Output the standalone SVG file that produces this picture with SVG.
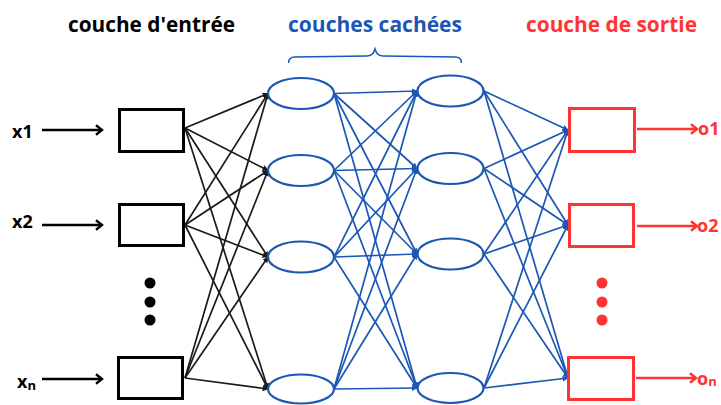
<svg xmlns="http://www.w3.org/2000/svg" width="721" height="405" viewBox="0 0 721 405">
<style>
text{font-family:"Open Sans","Noto Sans","Liberation Sans",sans-serif;font-weight:700}
.t{font-size:22px}
.lab{font-size:18px;fill:#000}
.in{fill:#fff;stroke:#000;stroke-width:3}
.out{fill:#fff;stroke:#f33;stroke-width:3}
.hid{fill:#fff;stroke:#1b57b5;stroke-width:2.2}
.cb{stroke:#1a1a1a;stroke-width:1.7;fill:none}
.cu{stroke:#1b57b5;stroke-width:1.7;fill:none}
.ia{stroke:#000;stroke-width:2.5;fill:none}
.oa{stroke:#f33;stroke-width:2.5;fill:none}
</style>
<defs>
<marker id="mb" viewBox="0 0 10 10" refX="9" refY="5" markerWidth="6" markerHeight="6" orient="auto" markerUnits="userSpaceOnUse"><path d="M0,0L10,5L0,10z" fill="#1a1a1a"/></marker>
<marker id="mu" viewBox="0 0 10 10" refX="9" refY="5" markerWidth="6" markerHeight="6" orient="auto" markerUnits="userSpaceOnUse"><path d="M0,0L10,5L0,10z" fill="#1b57b5"/></marker>
<marker id="ck" viewBox="0 0 10 10" refX="8" refY="5" markerWidth="12" markerHeight="12" orient="auto" markerUnits="userSpaceOnUse"><path d="M3,1L8,5L3,9" fill="none" stroke="#000" stroke-width="2"/></marker>
<marker id="cr" viewBox="0 0 10 10" refX="8" refY="5" markerWidth="12" markerHeight="12" orient="auto" markerUnits="userSpaceOnUse"><path d="M3,1L8,5L3,9" fill="none" stroke="#f33" stroke-width="2"/></marker>
</defs>

<g id="titles">
<text class="t" x="68" y="32" fill="#000" textLength="167" lengthAdjust="spacingAndGlyphs">couche d'entrée</text>
<text class="t" x="288" y="32" fill="#1b57b5" textLength="174" lengthAdjust="spacingAndGlyphs">couches cachées</text>
<text class="t" x="526" y="32" fill="#f33" textLength="171" lengthAdjust="spacingAndGlyphs">couche de sortie</text>
<path d="M288.5,63 Q288.5,57 295,57 L367,56 Q373,56 375,49 Q377,56 383,56 L455,57 Q461.5,57 461.5,63" fill="none" stroke="#1b57b5" stroke-width="1.5"/>
</g>

<g id="connectors">
<g class="cb" marker-end="url(#mb)">
<line x1="185" y1="128" x2="268" y2="93.5"/>
<line x1="185" y1="128" x2="268" y2="170.5"/>
<line x1="185" y1="128" x2="268" y2="257"/>
<line x1="185" y1="128" x2="268" y2="389"/>
<line x1="185" y1="225" x2="268" y2="93.5"/>
<line x1="185" y1="225" x2="268" y2="170.5"/>
<line x1="185" y1="225" x2="268" y2="257"/>
<line x1="185" y1="225" x2="268" y2="389"/>
<line x1="185" y1="378" x2="268" y2="93.5"/>
<line x1="185" y1="378" x2="268" y2="170.5"/>
<line x1="185" y1="378" x2="268" y2="257"/>
<line x1="185" y1="378" x2="268" y2="389"/>
</g>
<g class="cu" marker-end="url(#mu)">
<line x1="334" y1="93.5" x2="417" y2="91"/>
<line x1="334" y1="93.5" x2="417" y2="168.5"/>
<line x1="334" y1="93.5" x2="417" y2="254"/>
<line x1="334" y1="93.5" x2="417" y2="388"/>
<line x1="334" y1="170.5" x2="417" y2="91"/>
<line x1="334" y1="170.5" x2="417" y2="168.5"/>
<line x1="334" y1="170.5" x2="417" y2="254"/>
<line x1="334" y1="170.5" x2="417" y2="388"/>
<line x1="334" y1="257" x2="417" y2="91"/>
<line x1="334" y1="257" x2="417" y2="168.5"/>
<line x1="334" y1="257" x2="417" y2="254"/>
<line x1="334" y1="257" x2="417" y2="388"/>
<line x1="334" y1="389" x2="417" y2="91"/>
<line x1="334" y1="389" x2="417" y2="168.5"/>
<line x1="334" y1="389" x2="417" y2="254"/>
<line x1="334" y1="389" x2="417" y2="388"/>
<line x1="484" y1="91" x2="568" y2="130"/>
<line x1="484" y1="91" x2="568" y2="225"/>
<line x1="484" y1="91" x2="568" y2="378"/>
<line x1="484" y1="168.5" x2="568" y2="130"/>
<line x1="484" y1="168.5" x2="568" y2="225"/>
<line x1="484" y1="168.5" x2="568" y2="378"/>
<line x1="484" y1="254" x2="568" y2="130"/>
<line x1="484" y1="254" x2="568" y2="225"/>
<line x1="484" y1="254" x2="568" y2="378"/>
<line x1="484" y1="388" x2="568" y2="130"/>
<line x1="484" y1="388" x2="568" y2="225"/>
<line x1="484" y1="388" x2="568" y2="378"/>
</g>
<g class="ia" marker-end="url(#ck)">
<line x1="42" y1="130" x2="102" y2="130"/>
<line x1="42" y1="225" x2="102" y2="225"/>
<line x1="42" y1="379" x2="102" y2="379"/>
</g>
<g class="oa" marker-end="url(#cr)">
<line x1="637" y1="129" x2="697" y2="129"/>
<line x1="637" y1="226" x2="697" y2="226"/>
<line x1="636" y1="378" x2="696" y2="378"/>
</g>
</g>

<g id="input1"><text class="lab" x="12" y="138">x1</text><rect class="in" x="119.5" y="109.5" width="64" height="42"/></g>
<g id="input2"><text class="lab" x="12" y="228">x2</text><rect class="in" x="119.5" y="204.5" width="64" height="41"/></g>
<g id="inputn"><text class="lab" x="17" y="388">x<tspan font-size="13" dy="2">n</tspan></text><rect class="in" x="118.5" y="357.5" width="64" height="41"/></g>
<g id="input-dots" fill="#000"><circle cx="150" cy="283" r="5.5"/><circle cx="150" cy="302" r="5.5"/><circle cx="150" cy="320" r="5.5"/></g>

<g id="h1-1"><ellipse class="hid" cx="301" cy="93.5" rx="33" ry="15.5"/></g>
<g id="h1-2"><ellipse class="hid" cx="301" cy="170.5" rx="33" ry="15.5"/></g>
<g id="h1-3"><ellipse class="hid" cx="301" cy="257" rx="33" ry="15.5"/></g>
<g id="h1-4"><ellipse class="hid" cx="301" cy="389" rx="33" ry="14.5"/></g>
<g id="h2-1"><ellipse class="hid" cx="450.5" cy="91" rx="33" ry="15.5"/></g>
<g id="h2-2"><ellipse class="hid" cx="450.5" cy="168.5" rx="33" ry="15.5"/></g>
<g id="h2-3"><ellipse class="hid" cx="450.5" cy="254" rx="33" ry="15.5"/></g>
<g id="h2-4"><ellipse class="hid" cx="450.5" cy="388" rx="33" ry="15"/></g>

<g id="output1"><rect class="out" x="569.5" y="108.5" width="65" height="43"/><text class="lab" x="698" y="135" style="fill:#f33">o1</text></g>
<g id="output2"><rect class="out" x="569.5" y="204.5" width="64" height="42"/><text class="lab" x="697" y="232" style="fill:#f33">o2</text></g>
<g id="outputn"><rect class="out" x="568.5" y="357.5" width="65" height="42"/><text class="lab" x="697" y="385" style="fill:#f33">o<tspan font-size="13" dy="1">n</tspan></text></g>
<g id="output-dots" fill="#f33"><circle cx="602" cy="283" r="5.5"/><circle cx="602" cy="302" r="5.5"/><circle cx="602" cy="320" r="5.5"/></g>
</svg>
